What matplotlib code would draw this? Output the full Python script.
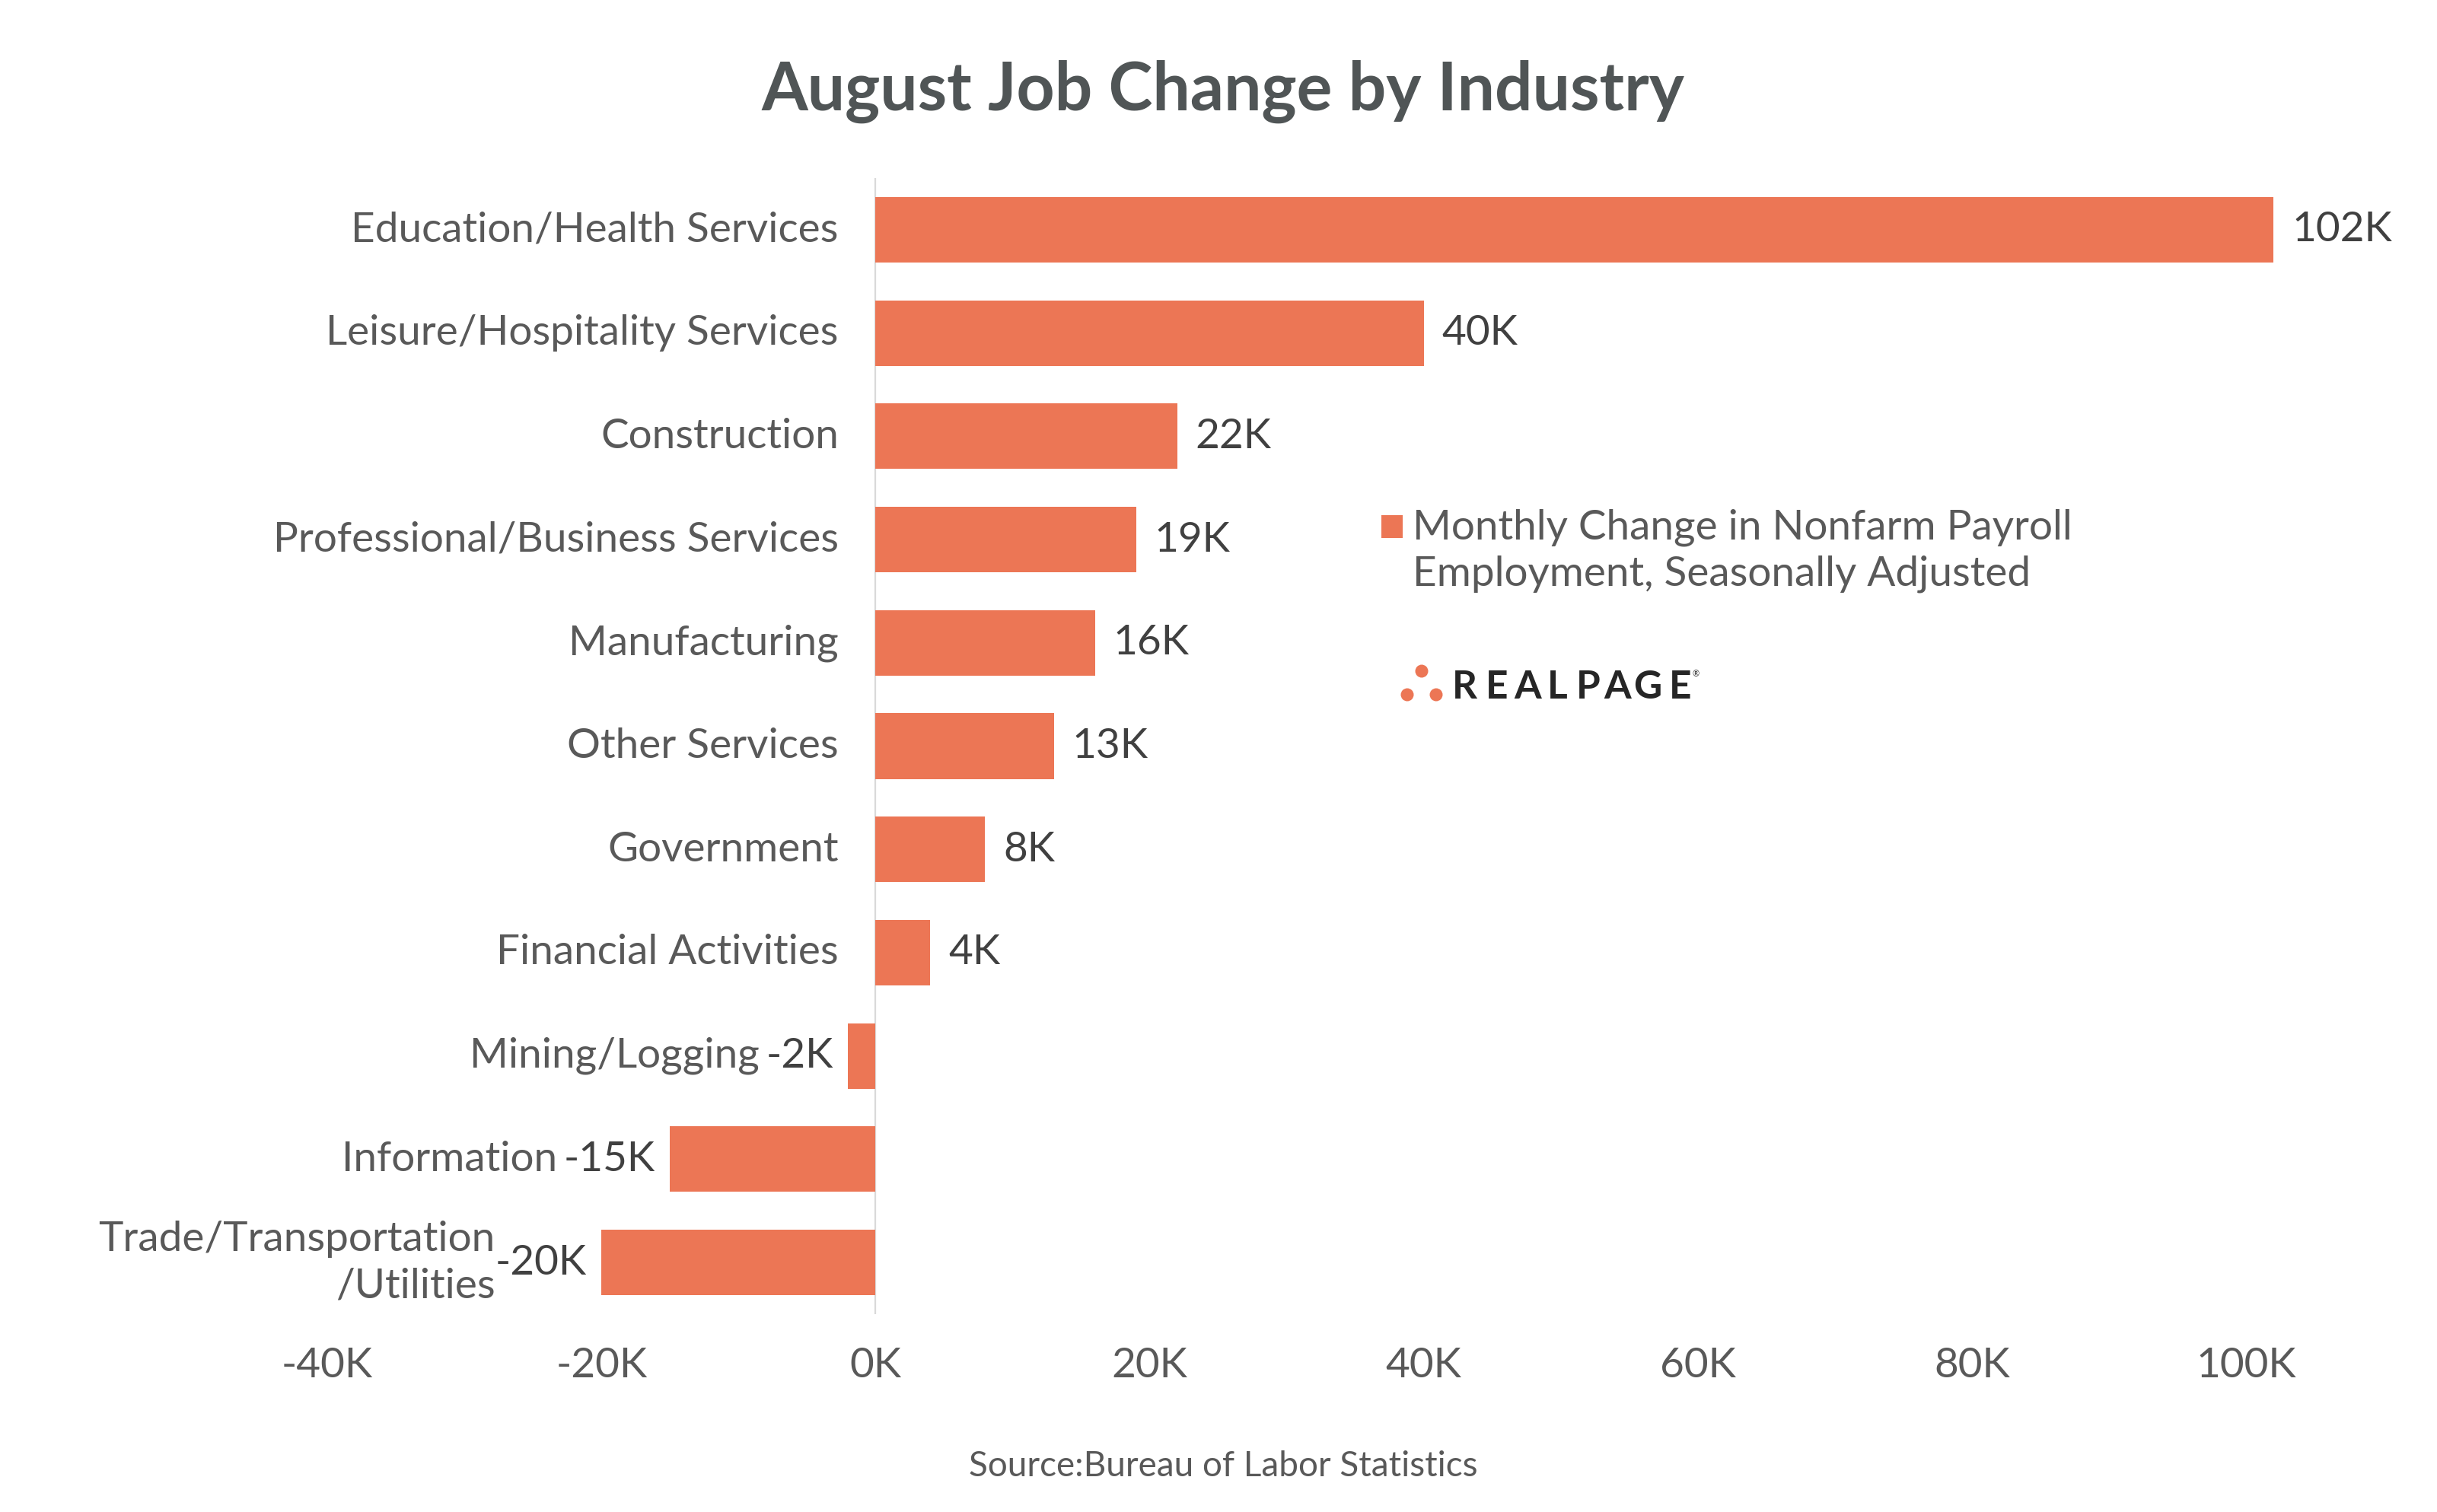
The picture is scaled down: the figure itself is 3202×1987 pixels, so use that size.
import matplotlib
matplotlib.use("Agg")
import matplotlib.pyplot as plt
from matplotlib.patches import Circle, Rectangle
from matplotlib.ticker import FuncFormatter

plt.rcParams["font.family"] = ["Lato", "DejaVu Sans"]

# data (thousands of jobs, August change)
industries = [
    "Education/Health Services",
    "Leisure/Hospitality Services",
    "Construction",
    "Professional/Business Services",
    "Manufacturing",
    "Other Services",
    "Government",
    "Financial Activities",
    "Mining/Logging",
    "Information",
    "Trade/Transportation\n/Utilities",
]
job_change = [102, 40, 22, 19, 16, 13, 8, 4, -2, -15, -20]
x_ticks = [-40, -20, 0, 20, 40, 60, 80, 100]

bar_colour = "#EC7655"
text_grey = "#595959"
value_grey = "#404040"

W, H = 3202, 1987
fig = plt.figure(figsize=(W / 100, H / 100), dpi=100)
fig.patch.set_facecolor("white")

# axes placed in pixel terms: -40K at x=430, rows from y=234 to y=1727
left_px, top_px, bottom_px = 430, 234, 1727
x_min, x_max = -40, 105
px_per_k = 18.01
ax = fig.add_axes([
    left_px / W,
    (H - bottom_px) / H,
    (x_max - x_min) * px_per_k / W,
    (bottom_px - top_px) / H,
])

rows = list(range(len(industries)))
ax.barh(rows, job_change, height=0.634, color=bar_colour, zorder=2)
ax.axvline(0, color="#D9D9D9", lw=1.6, zorder=1)

ax.set_xlim(x_min, x_max)
ax.set_ylim(len(industries) - 0.5, -0.5)
ax.set_xticks(x_ticks)
ax.xaxis.set_major_formatter(FuncFormatter(lambda v, p: f"{v:.0f}K"))
ax.tick_params(axis="x", length=0, pad=31, labelsize=39.5, labelcolor=text_grey)
ax.set_yticks([])
for s in ax.spines.values():
    s.set_visible(False)

label_size = 39.5
for i, (name, val) in enumerate(zip(industries, job_change)):
    if val >= 0:
        ax.annotate(f"{val}K", xy=(val, i), xytext=(17, 0), textcoords="offset points",
                    ha="left", va="center", fontsize=label_size, color=value_grey)
        ax.annotate(name, xy=(0, i), xytext=(-35, 0), textcoords="offset points",
                    ha="right", va="center", fontsize=label_size, color=text_grey,
                    multialignment="right")
    else:
        # negative bars: value label left of the bar, category name left of it
        vt = ax.annotate(f"{val}K", xy=(val, i), xytext=(-14, 0), textcoords="offset points",
                         ha="right", va="center", fontsize=label_size, color=value_grey)
        gap = 0 if "\n" in name else -6
        ax.annotate(name, xy=(0, 0.5), xycoords=vt, xytext=(gap, 0), textcoords="offset points",
                    ha="right", va="center", fontsize=label_size, color=text_grey,
                    multialignment="right", linespacing=1.3)

# title and source
fig.text(1607 / W, 1 - 120 / H, "August Job Change by Industry", ha="center", va="center",
         fontsize=63, fontweight="bold", color="#505556")
fig.text(1607 / W, 1 - 1927 / H, "Source:Bureau of Labor Statistics", ha="center", va="center",
         fontsize=33, color=text_grey)

# legend
fig.patches.append(Rectangle(((1829 - 14) / W, 1 - (692 + 15) / H), 28 / W, 30 / H,
                             transform=fig.transFigure, facecolor=bar_colour, edgecolor="none"))
fig.text(1856 / W, 1 - 724 / H, "Monthly Change in Nonfarm Payroll\nEmployment, Seasonally Adjusted",
         ha="left", va="center", fontsize=39.5, color=text_grey, linespacing=1.3)

# logo
for cx, cy in [(1868, 882), (1849, 913), (1887, 913)]:
    fig.patches.append(Circle((cx / 100, (H - cy) / 100), 8.5 / 100,
                              transform=fig.dpi_scale_trans,
                              facecolor=bar_colour, edgecolor="none"))
for ch, lx in zip("REALPAGE", [1924, 1967, 2007, 2046, 2087, 2125, 2165, 2208]):
    fig.text(lx / W, 1 - 903 / H, ch, ha="center", va="center", fontsize=37,
             fontweight="bold", color="#262626")
fig.text(2228 / W, 1 - 886 / H, "®", ha="center", va="center", fontsize=8, color="#262626")

fig.savefig("out.png", dpi=100, facecolor="white")
